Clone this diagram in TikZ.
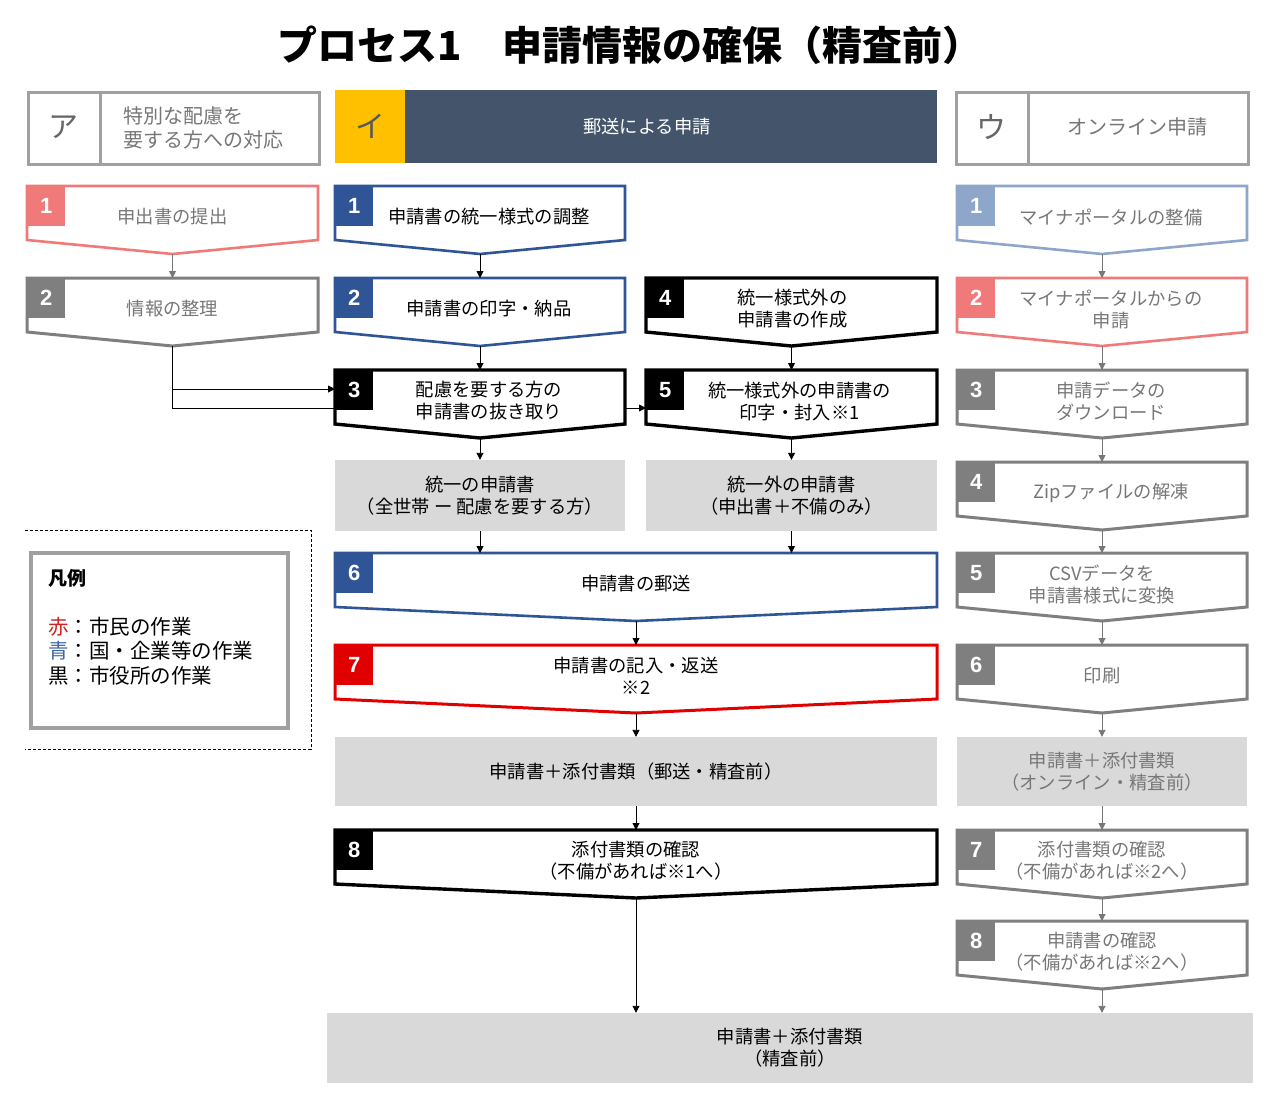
\documentclass[tikz,border=0pt]{standalone}
\usepackage{fontspec}
\setmainfont{Noto Sans CJK JP}
\newfontfamily\numfont{Liberation Sans}
\usetikzlibrary{arrows.meta}

\definecolor{slate}{HTML}{44546A}
\definecolor{yellowc}{HTML}{FFC000}
\definecolor{hdrgray}{HTML}{A0A0A0}
\definecolor{txtgray}{HTML}{777777}
\definecolor{stepblue}{HTML}{2F5597}
\definecolor{steplblue}{HTML}{8EA6C9}
\definecolor{stepred}{HTML}{E00000}
\definecolor{steplred}{HTML}{F07A7A}
\definecolor{stepgray}{HTML}{7F7F7F}
\definecolor{boxgray}{HTML}{D9D9D9}
\definecolor{legred}{HTML}{D02020}
\definecolor{legblue}{HTML}{3F66A0}
\definecolor{conngray}{HTML}{777777}

\newcommand{\flowstep}[8]{%
  \pgfmathsetmacro\fsmid{(#2+#3)/2}%
  \pgfmathsetmacro\fsside{#4+54}%
  \pgfmathsetmacro\fstip{#4+68}%
  \pgfmathsetmacro\fstx{\fsmid+#8}%
  \pgfmathsetmacro\fsty{#4+31}%
  \draw[#5line] (#2,#4) -- (#3,#4) -- (#3,\fsside) -- (\fsmid,\fstip) -- (#2,\fsside) -- cycle;
  \node[#5num] (#1n) at (#2,#4) {#6};
  \node[#5txt] (#1) at (\fstx,\fsty) {#7};
  \coordinate (#1top) at (\fsmid,#4);
  \coordinate (#1tip) at (\fsmid,\fstip);
}

\tikzset{
  numbase/.style={anchor=north west, minimum width=38, minimum height=40, inner sep=0,
    text=white, font=\numfont\bfseries\fontsize{22}{22}\selectfont},
  txtbase/.style={align=center, inner sep=0, font=\fontsize{18.3}{22}\selectfont},
  lnbase/.style={fill=white, line join=miter},
  blueline/.style={lnbase, draw=stepblue, line width=2.6pt},
  bluenum/.style={numbase, fill=stepblue},
  bluetxt/.style={txtbase, text=black},
  redline/.style={lnbase, draw=stepred, line width=3pt},
  rednum/.style={numbase, fill=stepred},
  redtxt/.style={txtbase, text=black},
  blackline/.style={lnbase, draw=black, line width=3.4pt},
  blacknum/.style={numbase, fill=black},
  blacktxt/.style={txtbase, text=black},
  lredline/.style={lnbase, draw=steplred, line width=2.6pt},
  lrednum/.style={numbase, fill=steplred},
  lredtxt/.style={txtbase, text=txtgray},
  lblueline/.style={lnbase, draw=steplblue, line width=2.6pt},
  lbluenum/.style={numbase, fill=steplblue},
  lbluetxt/.style={txtbase, text=txtgray},
  grayline/.style={lnbase, draw=stepgray, line width=3pt},
  graynum/.style={numbase, fill=stepgray},
  graytxt/.style={txtbase, text=txtgray},
  kconn/.style={line width=0.9pt, color=black, -{Triangle[length=7pt,width=7pt]}},
  gconn/.style={line width=0.9pt, color=conngray, -{Triangle[length=7pt,width=7pt]}},
  graybox/.style={fill=boxgray, inner sep=0, align=center, font=\fontsize{18.3}{22}\selectfont},
  hdrframe/.style={draw=hdrgray, line width=3pt, anchor=north west, minimum width=291, minimum height=72, inner sep=0},
  hdrletter/.style={text=black!60, font=\fontsize{30}{32}\selectfont},
  hdrtext/.style={text=txtgray, align=left, font=\fontsize{20}{24}\selectfont},
  legtxt/.style={anchor=west, inner sep=0, font=\fontsize{20.5}{22}\selectfont},
}

\begin{document}
\begin{tikzpicture}[x=1pt,y=-1pt]
\useasboundingbox[fill=white] (0,0) rectangle (1280,1104);

% title
\node[font=\fontsize{40}{42}\selectfont\bfseries] (title) at (630,45) {プロセス1　申請情報の確保（精査前）};

% headers
\node[hdrframe] (hA) at (27,91) {};
\draw[draw=hdrgray, line width=3pt] (hA.north west) ++(73,0) coordinate (hAd) -- (hAd |- hA.south);
\node[hdrletter] (hAl) at (63,127) {ア};
\node[hdrtext, anchor=west] (hAt) at (120,128) {特別な配慮を\\要する方への対応};

\node[fill=slate, anchor=north west, minimum width=602, minimum height=73, inner sep=0] (hI) at (335,90) {};
\node[fill=yellowc, anchor=north west, minimum width=70, minimum height=73, inner sep=0,
      text=black!65, font=\fontsize{30}{32}\selectfont] (hIl) at (335,90) {イ};
\node[text=white, font=\fontsize{18.3}{22}\selectfont] (hIt) at (647,127) {郵送による申請};

\node[hdrframe, minimum width=292] (hU) at (955,91) {};
\draw[draw=hdrgray, line width=3pt] (hU.north west) ++(73,0) coordinate (hUd) -- (hUd |- hU.south);
\node[hdrletter] (hUl) at (991,127) {ウ};
\node[hdrtext] (hUt) at (1137,127) {オンライン申請};

% column ア
\flowstep{a1}{27}{318}{186}{lred}{1}{申出書の提出}{0}
\flowstep{a2}{27}{318}{278}{gray}{2}{情報の整理}{0}
\draw[gconn] (a1tip) -- (a2top);

\coordinate (i3in) at (335,389);
\coordinate (i5in) at (646,408);
\draw[kconn] (a2tip) |- (i5in);
\draw[kconn] (a2tip) |- (i3in);

% column イ
\flowstep{i1}{335}{625}{186}{blue}{1}{申請書の統一様式の調整}{9}
\flowstep{i2}{335}{625}{278}{blue}{2}{申請書の印字・納品}{9}
\flowstep{i3}{335}{625}{370}{black}{3}{配慮を要する方の\\申請書の抜き取り}{9}
\flowstep{i4}{646}{937}{278}{black}{4}{統一様式外の\\申請書の作成}{1}
\flowstep{i5}{646}{937}{370}{black}{5}{統一様式外の申請書の\\印字・封入※1}{8}

\node[graybox, minimum width=290, minimum height=71] (g1) at (480,495.5) {統一の申請書\\（全世帯 ー 配慮を要する方）};
\node[graybox, minimum width=291, minimum height=71] (g2) at (791.5,495.5) {統一外の申請書\\（申出書＋不備のみ）};

\flowstep{i6}{335}{937}{553}{blue}{6}{申請書の郵送}{0}
\flowstep{i7}{335}{937}{645}{red}{7}{申請書の記入・返送\\※2}{0}
\node[graybox, minimum width=602, minimum height=69] (g3) at (636,771.5) {申請書＋添付書類（郵送・精査前）};
\flowstep{i8}{335}{937}{830}{black}{8}{添付書類の確認\\（不備があれば※1へ）}{0}

\node[graybox, minimum width=926, minimum height=70] (gb) at (790,1048) {申請書＋添付書類\\（精査前）};

\draw[kconn] (i1tip) -- (i2top);
\draw[kconn] (i2tip) -- (i3top);
\draw[kconn] (i4tip) -- (i5top);
\draw[kconn] (i3tip) -- (g1.north);
\draw[kconn] (i5tip) -- (i5tip |- g2.north);
\draw[kconn] (g1.south) -- (g1.south |- i6top);
\draw[kconn] (i5tip |- g2.south) -- (i5tip |- i6top);
\draw[kconn] (i6tip) -- (i7top);
\draw[kconn] (i7tip) -- (g3.north);
\draw[kconn] (g3.south) -- (i8top);
\draw[kconn] (i8tip) -- (i8tip |- gb.north);

% column ウ
\flowstep{u1}{957}{1247}{186}{lblue}{1}{マイナポータルの整備}{9}
\flowstep{u2}{957}{1247}{278}{lred}{2}{マイナポータルからの\\申請}{9}
\flowstep{u3}{957}{1247}{370}{gray}{3}{申請データの\\ダウンロード}{9}
\flowstep{u4}{957}{1247}{462}{gray}{4}{Zipファイルの解凍}{9}
\flowstep{u5}{957}{1247}{553}{gray}{5}{CSVデータを\\申請書様式に変換}{0}
\flowstep{u6}{957}{1247}{645}{gray}{6}{印刷}{0}
\node[graybox, text=txtgray, minimum width=290, minimum height=69] (gu) at (1102,771.5) {申請書＋添付書類\\（オンライン・精査前）};
\flowstep{u7}{957}{1247}{830}{gray}{7}{添付書類の確認\\（不備があれば※2へ）}{0}
\flowstep{u8}{957}{1247}{921}{gray}{8}{申請書の確認\\（不備があれば※2へ）}{0}

\draw[gconn] (u1tip) -- (u2top);
\draw[gconn] (u2tip) -- (u3top);
\draw[gconn] (u3tip) -- (u4top);
\draw[gconn] (u4tip) -- (u5top);
\draw[gconn] (u5tip) -- (u6top);
\draw[gconn] (u6tip) -- (gu.north);
\draw[gconn] (gu.south) -- (u7top);
\draw[gconn] (u7tip) -- (u8top);
\draw[gconn] (u8tip) -- (u8tip |- gb.north);

% legend
\coordinate (dA) at (25,530);
\coordinate (dB) at (311,530);
\coordinate (dC) at (311,749);
\coordinate (dD) at (25,749);
\draw[line width=0.8pt, dash pattern=on 3pt off 2pt] (dA) -- (dB) -- (dC) -- (dD);
\node[draw=hdrgray, line width=3.5pt, anchor=north west, minimum width=257, minimum height=175, inner sep=0] (legend) at (29,551) {};
\node[anchor=west, inner sep=0, font=\fontsize{19}{22}\selectfont\bfseries] (legt) at (48,578) {凡例};
\node[legtxt] (leg1) at (48,627) {\textcolor{legred}{赤}：市民の作業};
\node[legtxt] (leg2) at (48,651) {\textcolor{legblue}{青}：国・企業等の作業};
\node[legtxt] (leg3) at (48,676) {黒：市役所の作業};
\end{tikzpicture}
\end{document}
